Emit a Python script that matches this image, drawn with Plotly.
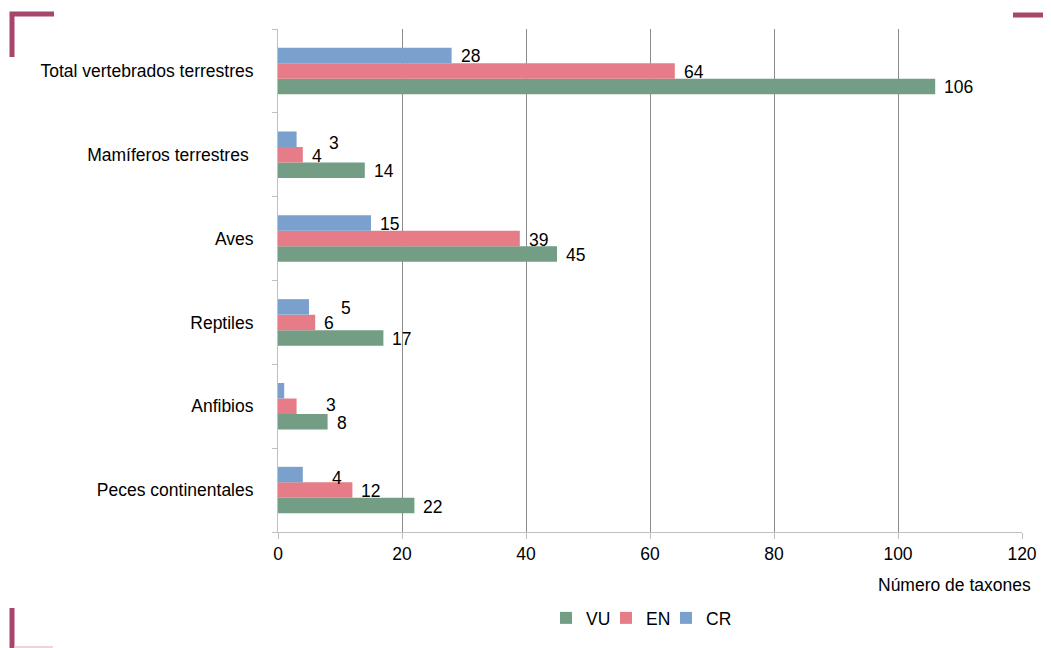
import plotly.graph_objects as go

categories = ["Total vertebrados terrestres", "Mamíferos terrestres ", "Aves",
              "Reptiles", "Anfibios", "Peces continentales"]
vu = [106, 14, 45, 17, 8, 22]
en = [64, 4, 39, 6, 3, 12]
cr = [28, 3, 15, 5, 1, 4]
series_names = ["VU", "EN", "CR"]
x_ticks = [0, 20, 40, 60, 80, 100, 120]

colors = {"VU": "#739E85", "EN": "#E67C87", "CR": "#7AA0CD"}
FONT = "Arial, Liberation Sans, sans-serif"
FS = 17.5

W, H = 1051, 648
OFF = 8  # page body margin
# screen-space plot area
SL, SR, ST, SB = 278, 1022, 29, 532
L, R, T, B = SL - OFF, SR - OFF, ST - OFF, SB - OFF


def px(xs):
    return (xs - SL) / (SR - SL)


def py(ys):
    return (SB - ys) / (SB - ST)


legend_ids = {"VU": "legend", "EN": "legend2", "CR": "legend3"}
legend_left = {"VU": 546, "EN": 606, "CR": 666}

fig = go.Figure()
series = {"VU": vu, "EN": en, "CR": cr}
for name in series_names:
    fig.add_trace(go.Bar(
        y=categories, x=series[name], name=name, orientation="h",
        marker=dict(color=colors[name], line=dict(width=0)),
        legend=legend_ids[name],
    ))

# data labels (Excel-like; some labels nudged as in the original)
bar_px = 15.5
yshift_of = {"VU": -bar_px, "EN": 0, "CR": bar_px}
extra_shift = {("CR", 1): (23, -3), ("CR", 3): (23, 0), ("CR", 5): (20, -2),
               ("EN", 4): (20, 2)}
hidden = {("CR", 4)}
annotations = []
for name in series_names:
    for i, (cat, v) in enumerate(zip(categories, series[name])):
        if (name, i) in hidden:
            continue
        dx, dy = extra_shift.get((name, i), (0, 0))
        annotations.append(dict(
            x=v, y=cat, xref="x", yref="y", text=str(v), showarrow=False,
            xanchor="left", yanchor="middle", xshift=7 + dx,
            yshift=yshift_of[name] + dy - 1,
            font=dict(family=FONT, size=FS, color="#000000")))

annotations.append(dict(
    x=px(954), y=py(585), xref="paper", yref="paper",
    text="Número de taxones", showarrow=False, xanchor="center", yanchor="middle",
    font=dict(family=FONT, size=FS, color="#000000")))

deco = "#A8456B"
light = "#E9C3D1"
shapes = [
    dict(type="path", xref="paper", yref="paper",
         path=f"M {px(12)} {py(57)} L {px(12)} {py(14)} L {px(54)} {py(14)}",
         line=dict(color=deco, width=5)),
    dict(type="line", xref="paper", yref="paper", x0=px(1013), x1=px(1056),
         y0=py(15), y1=py(15), line=dict(color=deco, width=5)),
    dict(type="line", xref="paper", yref="paper", x0=px(1050), x1=px(1050),
         y0=py(17), y1=py(55), line=dict(color=light, width=1.5)),
    dict(type="line", xref="paper", yref="paper", x0=px(12), x1=px(12),
         y0=py(608), y1=py(652), line=dict(color=deco, width=5)),
    dict(type="line", xref="paper", yref="paper", x0=px(14), x1=px(53),
         y0=py(647), y1=py(647), line=dict(color=light, width=1.5)),
]


def legend_cfg(name):
    return dict(orientation="h", x=px(legend_left[name]), y=py(618),
                xanchor="left", yanchor="middle",
                font=dict(family=FONT, size=FS, color="#000000"),
                itemwidth=30, bgcolor="rgba(0,0,0,0)")


fig.update_layout(
    width=W, height=H,
    margin=dict(l=L, r=W - R, t=T, b=H - B, pad=0),
    paper_bgcolor="white", plot_bgcolor="white",
    barmode="group", bargap=0.445, bargroupgap=0,
    font=dict(family=FONT, size=FS, color="#000000"),
    showlegend=True,
    legend=legend_cfg("VU"),
    legend2=legend_cfg("EN"),
    legend3=legend_cfg("CR"),
    annotations=annotations,
    shapes=shapes,
)

fig.update_xaxes(
    range=[0, 120], tickvals=x_ticks, ticktext=[str(t) for t in x_ticks],
    showgrid=True, gridcolor="#8C8C8C", gridwidth=1,
    showline=True, linecolor="#BFBFBF", linewidth=1,
    ticks="outside", ticklen=6, tickcolor="#BFBFBF",
    zeroline=False, tickfont=dict(family=FONT, size=FS, color="#000000"),
)
fig.update_yaxes(
    type="category", categoryorder="array", categoryarray=categories[::-1],
    showgrid=False, showline=True, linecolor="#BFBFBF", linewidth=1,
    ticks="outside", ticklen=5, tickcolor="#BFBFBF", tickson="boundaries",
    ticklabelstandoff=20,
    tickfont=dict(family=FONT, size=FS, color="#000000"),
)

fig.write_html("out.html")
